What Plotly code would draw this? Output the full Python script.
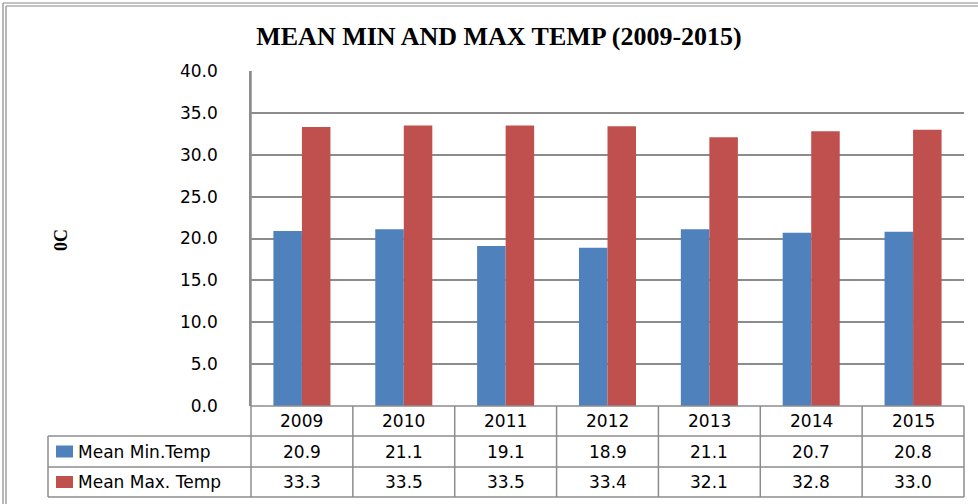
import plotly.graph_objects as go

years = ["2009", "2010", "2011", "2012", "2013", "2014", "2015"]
mean_min = [20.9, 21.1, 19.1, 18.9, 21.1, 20.7, 20.8]
mean_max = [33.3, 33.5, 33.5, 33.4, 32.1, 32.8, 33.0]
series_names = ["Mean Min.Temp", "Mean Max. Temp"]
colors = ["#4F81BD", "#C0504D"]

W, H = 978, 504
L, R, T, B = 251, 964, 71, 406
pw, ph = R - L, B - T
line_col = "#8c8c8c"
font_sans = "DejaVu Sans"

def py(p):  # pixel y -> paper y
    return (B - p) / ph

def px(p):  # pixel x -> paper x
    return (p - L) / pw

fig = go.Figure()
for name, vals, c in zip(series_names, [mean_min, mean_max], colors):
    fig.add_trace(go.Bar(x=years, y=vals, name=name, marker=dict(color=c, line=dict(width=0))))

shapes = []
annotations = []

row_edges = [406, 436, 467, 497]
left_col = 48
n = len(years)

# horizontal lines
shapes.append(dict(type="line", xref="paper", yref="paper", x0=0, x1=1, y0=0, y1=0,
                   line=dict(color=line_col, width=1.5)))
for r in row_edges[1:]:
    shapes.append(dict(type="line", xref="paper", yref="paper", x0=px(left_col), x1=1,
                       y0=py(r), y1=py(r), line=dict(color=line_col, width=1.5)))
# vertical lines
shapes.append(dict(type="line", xref="paper", yref="paper", x0=px(left_col), x1=px(left_col),
                   y0=py(row_edges[1]), y1=py(row_edges[3]), line=dict(color=line_col, width=1.5)))
for k in range(n + 1):
    xb = k / n
    shapes.append(dict(type="line", xref="paper", yref="paper", x0=xb, x1=xb,
                       y0=py(row_edges[0]) if k > 0 else 1, y1=py(row_edges[3]),
                       line=dict(color=line_col, width=1.5)))

txt_font = dict(family=font_sans, size=17, color="#000")
# header row: years
for i, yr in enumerate(years):
    annotations.append(dict(text=yr, xref="paper", x=(i + 0.5) / n, yref="paper",
                            xanchor="center", yanchor="middle",
                            y=py((row_edges[0] + row_edges[1]) / 2),
                            showarrow=False, font=txt_font))
# data rows
for ri, (name, vals, c) in enumerate(zip(series_names, [mean_min, mean_max], colors)):
    yc = (row_edges[ri + 1] + row_edges[ri + 2]) / 2
    for i, v in enumerate(vals):
        annotations.append(dict(text=f"{v:.1f}", xref="paper", x=(i + 0.5) / n, yref="paper",
                                y=py(yc), xanchor="center", yanchor="middle",
                                showarrow=False, font=txt_font))
    shapes.append(dict(type="rect", xref="paper", yref="paper", x0=px(56), x1=px(73),
                       y0=py(yc - 6), y1=py(yc + 6), fillcolor=c, line=dict(width=0)))
    annotations.append(dict(text=name, xref="paper", x=px(76), xanchor="left", yref="paper",
                            y=py(yc), yanchor="middle", showarrow=False, font=txt_font))

# outer double border
for off in (3, 6):
    shapes.append(dict(type="line", xref="paper", yref="paper", x0=px(off), x1=px(off),
                       y0=py(off), y1=py(H + 20), line=dict(color="#888888", width=1.2)))
    shapes.append(dict(type="line", xref="paper", yref="paper", x0=px(off), x1=px(W + 20),
                       y0=py(off), y1=py(off), line=dict(color="#888888", width=1.2)))

# y axis title
annotations.append(dict(text="<b>0C</b>", xref="paper", x=px(61), yref="paper", y=py(240),
                        xanchor="center", yanchor="middle",
                        textangle=-90, showarrow=False,
                        font=dict(family="Liberation Serif", size=18, color="#000")))

fig.update_layout(
    width=W, height=H,
    margin=dict(l=L, r=W - R, t=T, b=H - B),
    paper_bgcolor="white", plot_bgcolor="white",
    barmode="group", bargap=0.44, bargroupgap=0,
    showlegend=False,
    title=dict(text="<b>MEAN MIN AND MAX TEMP (2009-2015)</b>", xref="container", x=499 / W,
               xanchor="center", yref="container", y=1 - 36 / H, yanchor="middle",
               font=dict(family="Liberation Serif", size=26, color="#000")),
    xaxis=dict(type="category", range=[-0.5, n - 0.5], showticklabels=False, showgrid=False,
               zeroline=False, showline=False, ticks=""),
    yaxis=dict(range=[0, 40], dtick=5, tickformat=".1f", showgrid=True, gridcolor=line_col,
               gridwidth=1.5, zeroline=False, showline=True, linecolor=line_col, linewidth=1.5,
               ticks="", ticklabelstandoff=28,
               tickfont=dict(family=font_sans, size=17, color="#000")),
    shapes=shapes, annotations=annotations,
)

fig.write_html("out.html", config={"displayModeBar": False},
               post_script="document.body.style.margin='0';")
